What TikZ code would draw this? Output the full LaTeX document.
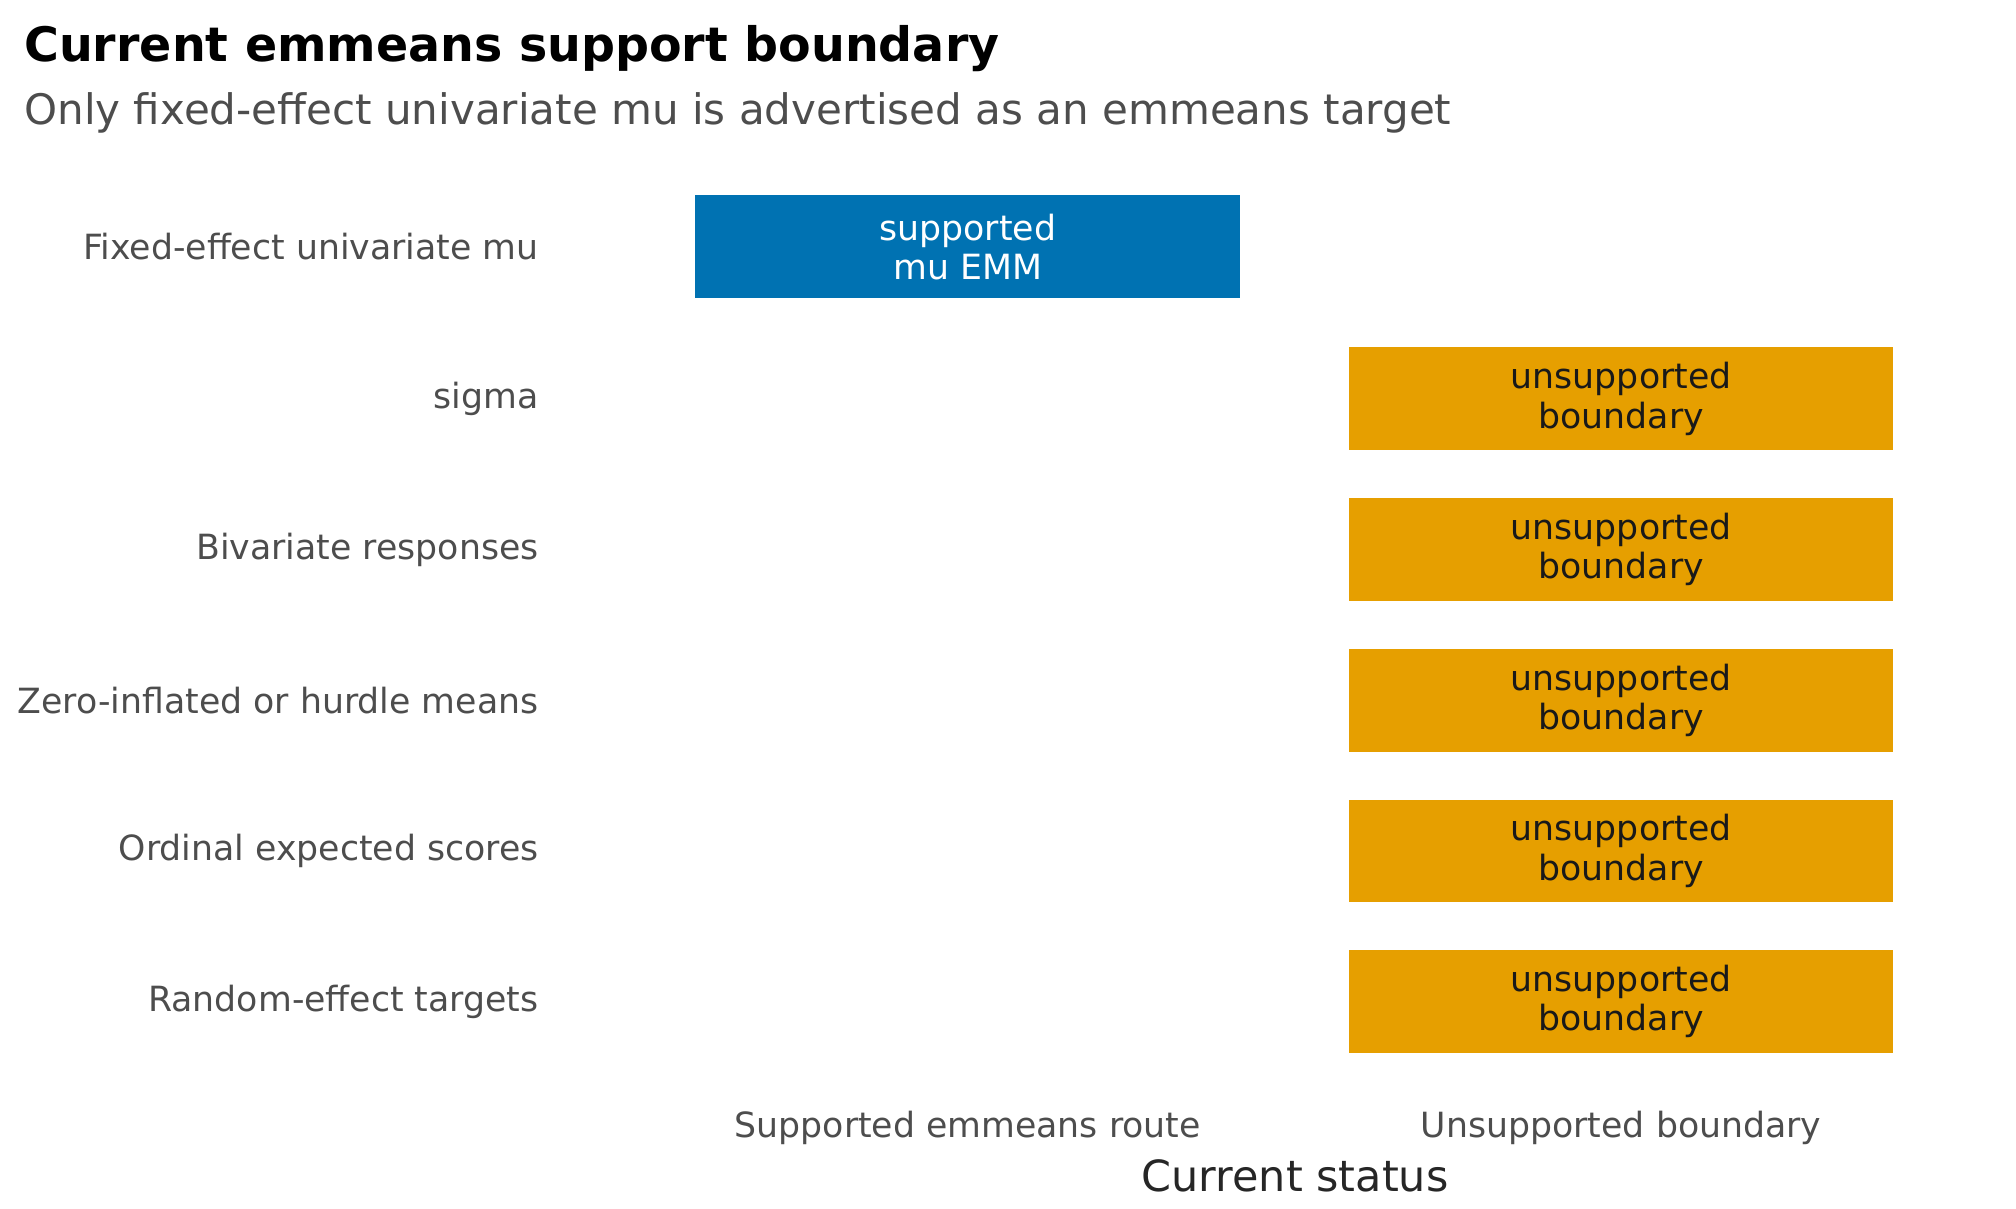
\documentclass[tikz,border=0pt]{standalone}
\usepackage{fontspec}
\setmainfont{DejaVu Sans}
\definecolor{okblue}{HTML}{0072B2}
\definecolor{okorange}{HTML}{E69F00}
\definecolor{labgray}{HTML}{4D4D4D}
\tikzset{
  bar/.style={minimum width=4.19cm,minimum height=0.79cm,inner sep=0pt,align=center,font=\fontsize{7.6}{8.6}\selectfont},
  supp/.style={bar,fill=okblue,text=white},
  unsupp/.style={bar,fill=okorange,text=black!90},
  rowlab/.style={anchor=east,text=labgray,font=\fontsize{7.6}{9}\selectfont},
  collab/.style={text=labgray,font=\fontsize{7.6}{9}\selectfont}
}
\begin{document}
\begin{tikzpicture}[x=0.01cm,y=-0.01cm]
\useasboundingbox (0,0) rectangle (1552,930);
% title block
\node[anchor=base west,inner sep=0pt,font=\bfseries\fontsize{10.4}{12}\selectfont] (title) at (18,47) {Current emmeans support boundary};
\node[anchor=base west,inner sep=0pt,text=labgray,font=\fontsize{9.2}{11}\selectfont] (subtitle) at (18,96) {Only fixed-effect univariate mu is advertised as an emmeans target};
% rows
\node[rowlab] (l1) at (427,190) {Fixed-effect univariate mu};
\node[rowlab] (l2) at (427,307) {sigma};
\node[rowlab] (l3) at (427,423) {Bivariate responses};
\node[rowlab] (l4) at (427,539) {Zero-inflated or hurdle means};
\node[rowlab] (l5) at (427,655) {Ordinal expected scores};
\node[rowlab] (l6) at (427,771) {Random-effect targets};
% bars
\node[supp] (b1) at (745,190) {supported\\mu EMM};
\foreach \y/\n in {307/2,423/3,539/4,655/5,771/6}
  \node[unsupp] (b\n) at (1248,\y) {unsupported\\boundary};
% axis
\node[collab] (c1) at (745,868) {Supported emmeans route};
\node[collab] (c2) at (1248,868) {Unsupported boundary};
\node[text=black!85,font=\fontsize{9.4}{11}\selectfont] (axtitle) at (997,905) {Current status};
\end{tikzpicture}
\end{document}
